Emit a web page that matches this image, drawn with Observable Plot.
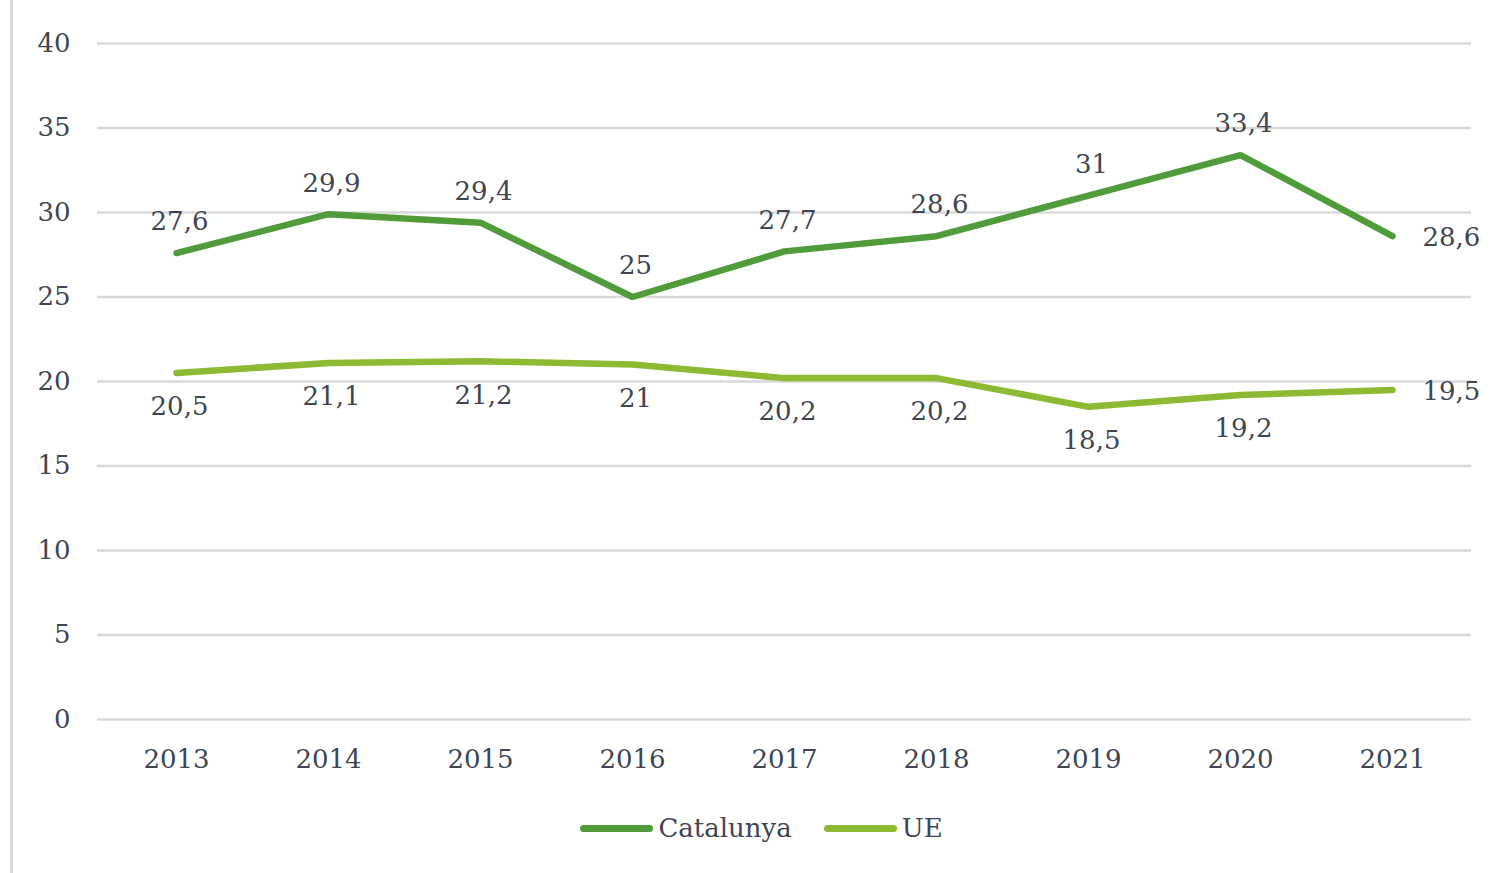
<!DOCTYPE html>
<html>
<head>
<meta charset="utf-8">
<script src="https://cdn.jsdelivr.net/npm/d3@7"></script>
<script src="https://cdn.jsdelivr.net/npm/@observablehq/plot@0.6"></script>
<style>
  html, body { margin: 0; padding: 0; background: #fff; }
  body { width: 1493px; height: 873px; position: relative; overflow: hidden; font-family: "DejaVu Serif", serif; color: #404552; }
  #frame { position: absolute; left: 10px; top: 0; width: 3px; height: 873px; background: #d9d9d9; }
  #legend { display: flex; justify-content: center; align-items: center; gap: 0; height: 56px; font-size: 26px; padding-left: 30px; }
  .item { display: flex; align-items: center; margin: 0 16px; }
  .sw { width: 73px; height: 7px; border-radius: 4px; margin-right: 5px; }
</style>
</head>
<body>
<div id="frame"></div>
<div id="chart"></div>
<div id="legend"></div>
<script>
const years = ["2013","2014","2015","2016","2017","2018","2019","2020","2021"];
const catalunya = [27.6, 29.9, 29.4, 25, 27.7, 28.6, 31, 33.4, 28.6];
const ue = [20.5, 21.1, 21.2, 21, 20.2, 20.2, 18.5, 19.2, 19.5];
const seriesNames = ["Catalunya", "UE"];
const seriesColors = ["#509c3a", "#8cba32"];
const yTicks = [0, 5, 10, 15, 20, 25, 30, 35, 40];

const rows = [];
years.forEach((y, i) => {
  rows.push({year: y, value: catalunya[i], series: "Catalunya", last: i === years.length - 1});
  rows.push({year: y, value: ue[i], series: "UE", last: i === years.length - 1});
});
const fmt = v => String(v).replace(".", ",");

const plot = Plot.plot({
  width: 1493,
  height: 800,
  marginTop: 43,
  marginBottom: 81,
  marginLeft: 97,
  marginRight: 22,
  style: {fontFamily: "DejaVu Serif", fontSize: "26px", color: "#404552", background: "#fff"},
  x: {type: "point", domain: years, padding: 0.5},
  y: {domain: [0, 40]},
  color: {domain: seriesNames, range: seriesColors},
  marks: [
    Plot.ruleY(yTicks, {stroke: "#d9d9d9", strokeWidth: 2.5}),
    Plot.axisY({ticks: yTicks, tickSize: 0, tickPadding: 27, label: null, fontSize: 26}),
    Plot.axisX({tickSize: 0, tickPadding: 30, label: null, fontSize: 26}),
    Plot.line(rows, {x: "year", y: "value", stroke: "series", z: "series", strokeWidth: 6.5, strokeLinecap: "round", strokeLinejoin: "miter"}),
    Plot.text(rows.filter(d => d.series === "Catalunya" && !d.last), {x: "year", y: "value", text: d => fmt(d.value), dx: 3, dy: -31, fill: "currentColor"}),
    Plot.text(rows.filter(d => d.series === "UE" && !d.last), {x: "year", y: "value", text: d => fmt(d.value), dx: 3, dy: 34, fill: "currentColor"}),
    Plot.text(rows.filter(d => d.last), {x: "year", y: "value", text: d => fmt(d.value), dx: 30, dy: 2, textAnchor: "start", fill: "currentColor"})
  ]
});
document.getElementById("chart").appendChild(plot);

const legend = document.getElementById("legend");
seriesNames.forEach((name, i) => {
  const item = document.createElement("div");
  item.className = "item";
  const sw = document.createElement("span");
  sw.className = "sw";
  sw.style.background = seriesColors[i];
  const label = document.createElement("span");
  label.textContent = name;
  item.appendChild(sw);
  item.appendChild(label);
  legend.appendChild(item);
});
</script>
</body>
</html>
